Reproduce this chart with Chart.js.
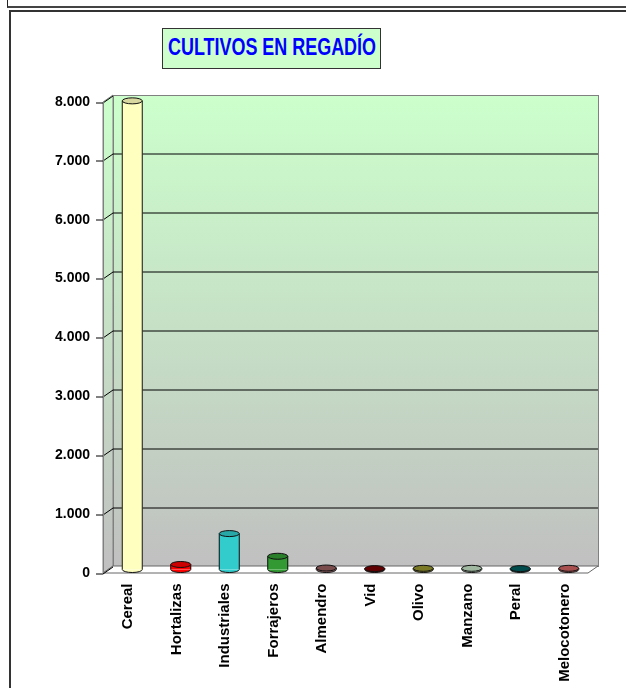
<!DOCTYPE html>
<html>
<head>
<meta charset="utf-8">
<script src="https://cdn.jsdelivr.net/npm/chart.js@4.4.1/dist/chart.umd.min.js"></script>
<style>
  body { margin: 0; background: #fff; width: 626px; height: 688px; overflow: hidden; position: relative; }
  #topbox { position: absolute; left: 7px; top: -2px; width: 640px; height: 7px; border: 1px solid #222; border-bottom: 2px solid #444; }
  #frame { position: absolute; left: 9px; top: 10px; width: 640px; height: 700px; border: 2px solid #333; }
  #title { position: absolute; left: 162px; top: 28px; width: 219px; height: 41px; box-sizing: border-box;
           border: 1px solid #333; background: #ccffcc; }
  #title span { position: absolute; left: 50%; top: 18px; font: bold 23px "Liberation Sans", Arial, sans-serif; color: #0000ff;
                transform: translate(-50%, -50%) scaleX(0.78); white-space: nowrap; }
  canvas { position: absolute; left: 0; top: 0; }
</style>
</head>
<body>
<div id="topbox"></div>
<div id="frame"></div>
<canvas id="chart" width="626" height="688"></canvas>
<div id="title"><span>CULTIVOS EN REGADÍO</span></div>
<script>
const categories = ['Cereal', 'Hortalizas', 'Industriales', 'Forrajeros', 'Almendro', 'Vid', 'Olivo', 'Manzano', 'Peral', 'Melocotonero'];
const hectareas = [7960, 85, 610, 225, 25, 15, 20, 20, 15, 20];
const yTicks = [0, 1000, 2000, 3000, 4000, 5000, 6000, 7000, 8000];

const barColors = ['#ffffc0', '#ff0000', '#33cccc', '#339933', '#996666', '#800000', '#999933', '#c0dcc0', '#006666', '#cc6666'];
const topColors = ['#d8d8a0', '#cc0000', '#29a8a8', '#2a7f2a', '#7a4c4c', '#600000', '#7a7a26', '#a0b8a0', '#004c4c', '#a85050'];

const DX = 5, DY = 3.5;   // half depth of the 3d box
const FONT = '"Liberation Sans", Arial, sans-serif';

function fmt(v){
    return v.toString().replace(/\B(?=(\d{3})+(?!\d))/g, '.');
}

const walls = {
    id: 'walls',
    beforeDraw(chart){
        const ctx = chart.ctx, a = chart.chartArea, y = chart.scales.y;
        const top = y.getPixelForValue(yTicks[yTicks.length - 1]);
        const bot = y.getPixelForValue(0);
        const bl = a.left + DX, br = a.right + DX;   // back wall x
        const fl = a.left - DX, fr = a.right - DX;   // front x
        ctx.save();

        const grad = ctx.createLinearGradient(0, top - DY, 0, bot - DY);
        grad.addColorStop(0, '#ccffcc');
        grad.addColorStop(1, '#c0c0c0');

        // back wall
        ctx.fillStyle = grad;
        ctx.fillRect(bl, top - DY, br - bl, bot - top);
        ctx.strokeStyle = '#808080';
        ctx.lineWidth = 1;
        ctx.strokeRect(bl + 0.5, top - DY + 0.5, br - bl, bot - top);

        // side wall
        ctx.beginPath();
        ctx.moveTo(fl, top + DY);
        ctx.lineTo(bl, top - DY);
        ctx.lineTo(bl, bot - DY);
        ctx.lineTo(fl, bot + DY);
        ctx.closePath();
        ctx.fillStyle = grad;
        ctx.fill();
        ctx.stroke();

        // floor
        ctx.beginPath();
        ctx.moveTo(bl, bot - DY);
        ctx.lineTo(br, bot - DY);
        ctx.lineTo(fr, bot + DY);
        ctx.lineTo(fl, bot + DY);
        ctx.closePath();
        ctx.fillStyle = '#ffffff';
        ctx.fill();
        ctx.strokeStyle = '#666';
        ctx.stroke();

        // gridlines, side diagonals and tick marks
        ctx.strokeStyle = '#000';
        yTicks.forEach(v => {
            const p = Math.round(y.getPixelForValue(v)) + 0.5;
            if (v > 0 && v < yTicks[yTicks.length - 1]) {
                ctx.beginPath();
                ctx.moveTo(bl, p - DY);
                ctx.lineTo(br, p - DY);
                ctx.stroke();
            }
            ctx.beginPath();
            ctx.moveTo(fl - 7, p + DY);
            ctx.lineTo(fl, p + DY);
            ctx.lineTo(bl, p - DY);
            ctx.stroke();
        });

        // front vertical axis
        ctx.strokeStyle = '#808080';
        ctx.beginPath();
        ctx.moveTo(fl + 0.5, top + DY);
        ctx.lineTo(fl + 0.5, bot + DY);
        ctx.stroke();
        ctx.restore();
    }
};

const cylinders = {
    id: 'cylinders',
    afterDatasetsDraw(chart){
        const ctx = chart.ctx;
        ctx.save();
        ctx.strokeStyle = '#111';
        ctx.lineWidth = 1;
        chart.getDatasetMeta(0).data.forEach((bar, i) => {
            const p = bar.getProps(['x', 'y', 'base', 'width'], true);
            const hw = p.width / 2, ry = 3;
            ctx.fillStyle = barColors[i];
            ctx.beginPath();
            ctx.ellipse(p.x, p.base, hw, ry, 0, 0, Math.PI);
            ctx.fill();
            ctx.stroke();
            ctx.beginPath();
            ctx.moveTo(p.x - hw, p.y);
            ctx.lineTo(p.x - hw, p.base);
            ctx.moveTo(p.x + hw, p.y);
            ctx.lineTo(p.x + hw, p.base);
            ctx.stroke();
            ctx.fillStyle = topColors[i];
            ctx.beginPath();
            ctx.ellipse(p.x, p.y, hw, ry, 0, 0, Math.PI * 2);
            ctx.fill();
            ctx.stroke();
        });
        ctx.restore();
    }
};

new Chart(document.getElementById('chart').getContext('2d'), {
    type: 'bar',
    data: {
        labels: categories,
        datasets: [{
            data: hectareas,
            backgroundColor: barColors,
            borderWidth: 0,
            barThickness: 20
        }]
    },
    options: {
        responsive: false,
        animation: false,
        devicePixelRatio: 1,
        layout: { padding: { top: 98.5, right: 33, bottom: 0, left: 0 } },
        plugins: { legend: { display: false }, title: { display: false }, tooltip: { enabled: false } },
        scales: {
            x: {
                grid: { display: false },
                border: { display: false },
                ticks: {
                    color: '#000', font: { family: FONT, size: 15, weight: 'bold' },
                    minRotation: 90, maxRotation: 90, padding: 6, labelOffset: -4, autoSkip: false
                },
                afterFit(s){ s.height = 118.5; }
            },
            y: {
                min: 0, max: 8000,
                grid: { display: false },
                border: { display: false },
                ticks: {
                    stepSize: 1000, color: '#000', font: { family: FONT, size: 14, weight: 'bold' },
                    padding: 10, labelOffset: DY,
                    callback: v => fmt(v)
                },
                afterFit(s){ s.width = 108; }
            }
        }
    },
    plugins: [walls, cylinders]
});
</script>
</body>
</html>
